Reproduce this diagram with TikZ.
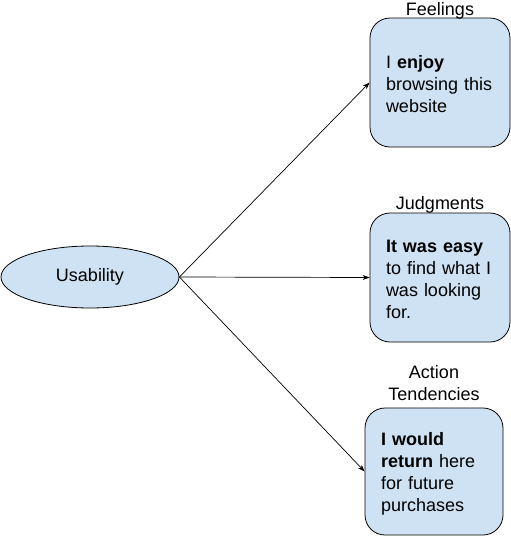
\documentclass[tikz,border=0pt]{standalone}
\usepackage{fontspec}
\setmainfont{Liberation Sans}
\usetikzlibrary{shapes.geometric,arrows.meta}
\definecolor{boxblue}{HTML}{CFE2F3}
\begin{document}
\begin{tikzpicture}[x=1pt,y=-1pt,
  box/.style={draw=black, line width=0.8pt, fill=boxblue, rounded corners=20pt,
    minimum width=140pt, minimum height=129pt, inner xsep=16pt, inner ysep=0pt,
    text width=108pt, align=left, font=\fontsize{18}{22}\selectfont,
    execute at begin node={\rule{0pt}{17pt}}},
  ell/.style={ellipse, draw=black, line width=0.8pt, fill=boxblue,
    minimum width=178pt, minimum height=62pt, inner sep=0pt,
    font=\fontsize{18}{22}\selectfont},
  lbl/.style={inner sep=0pt, text depth=0pt, align=center,
    font=\fontsize{18}{22}\selectfont},
  arr/.style={draw=black, line width=0.7pt, -{Stealth[length=7pt,width=5pt]}}]
\useasboundingbox (0,0) rectangle (511,536);
\node[ell] (u) at (90,277) {Usability};
\node[box] (b1) at (440,82.5) {I \textbf{enjoy}\\browsing this\\website};
\node[box] (b2) at (440,277.5) {\textbf{It was easy}\\to find what I\\was looking\\for.};
\node[box, minimum width=138pt, text width=106pt, minimum height=127pt] (b3) at (434,471.5)
  {\textbf{I would}\\\textbf{return} here\\for future\\purchases};
\node[lbl, anchor=south] (l1) at ([yshift=2pt]b1.north) {Feelings};
\node[lbl, anchor=south] (l2) at ([yshift=3pt]b2.north) {Judgments};
\node[lbl, anchor=south] (l3) at ([yshift=6.5pt]b3.north) {Action\\Tendencies};
\draw[arr] (u.east) -- (b1.west);
\draw[arr] (u.east) -- (b2.west);
\draw[arr] (u.east) -- (b3.west);
\end{tikzpicture}
\end{document}
